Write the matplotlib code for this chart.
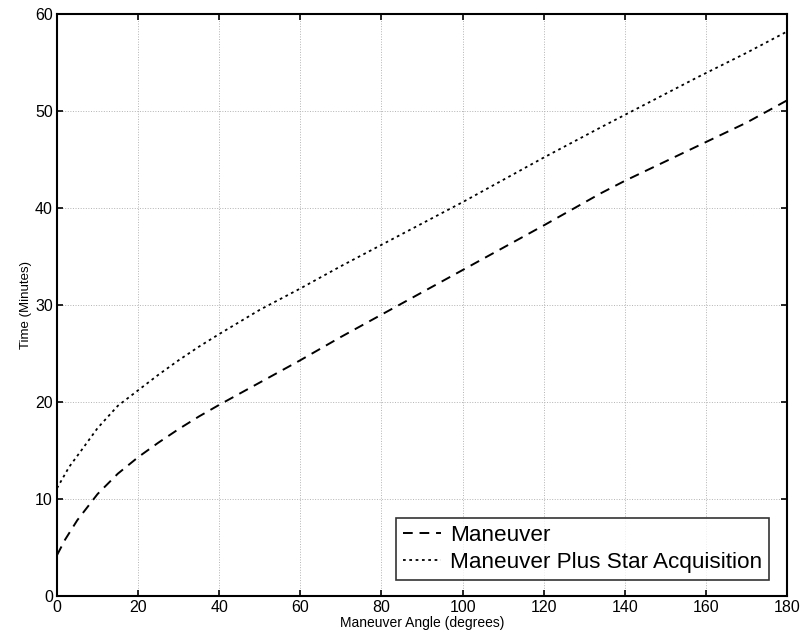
import matplotlib
matplotlib.use("Agg")
import matplotlib.pyplot as plt

plt.rcParams.update({
    "font.family": ["Liberation Sans", "DejaVu Sans"],
})

# Tempo de manobra (leitura da figura)
ang_man = [0, 2, 5, 10, 15, 20, 25, 30, 35, 40, 50, 60, 70, 80, 90, 100, 110, 120, 134, 140, 158, 170, 180]
t_man = [4.2, 5.8, 7.8, 10.5, 12.6, 14.3, 15.8, 17.2, 18.5, 19.7, 22.0, 24.3, 26.7, 29.0, 31.3,
         33.6, 35.9, 38.2, 41.5, 42.8, 46.4, 48.8, 51.1]

# Manobra + aquisicao de estrelas
ang_star = [0, 3, 6, 10, 15, 20, 25, 30, 35, 40, 50, 60, 70, 80, 90, 100, 120, 134, 158, 170, 180]
t_star = [11.1, 13.3, 15.0, 17.3, 19.6, 21.2, 22.8, 24.3, 25.7, 27.0, 29.5, 31.7, 34.0, 36.2, 38.4,
          40.6, 45.2, 48.3, 53.5, 56.0, 58.2]

xticks = list(range(0, 181, 20))
yticks = list(range(0, 61, 10))

fig = plt.figure(figsize=(8.04, 6.4), dpi=100)
ax = fig.add_axes([0.0709, 0.069, 0.908, 0.909])

ax.plot(ang_man, t_man, color="black", lw=1.4, ls=(0, (5, 3.5)), label="Maneuver")
ax.plot(ang_star, t_star, color="black", lw=1.3, ls=(0, (1.5, 2)),
        label="Maneuver Plus Star Acquisition")

ax.set_xlim(0, 180)
ax.set_ylim(0, 60)
ax.set_xticks(xticks)
ax.set_yticks(yticks)
ax.tick_params(direction="in", top=True, right=True, length=4, width=1.2,
               labelsize=11.5, pad=3)
ax.grid(color="0.7", ls=":", lw=0.7)
for s in ax.spines.values():
    s.set_linewidth(1.5)

ax.set_xlabel("Maneuver Angle (degrees)", fontsize=10, labelpad=1)
ax.set_ylabel("Time (Minutes)", fontsize=9.5, labelpad=2)

leg = ax.legend(loc="lower right", bbox_to_anchor=(0.975, 0.028), fontsize=16.2,
                frameon=True, fancybox=False, edgecolor="black", handlelength=1.7,
                handletextpad=0.4, borderpad=0.3, labelspacing=0.25, borderaxespad=0)
leg.get_frame().set_linewidth(1.2)

fig.savefig("out.png", dpi=100, facecolor="white")
